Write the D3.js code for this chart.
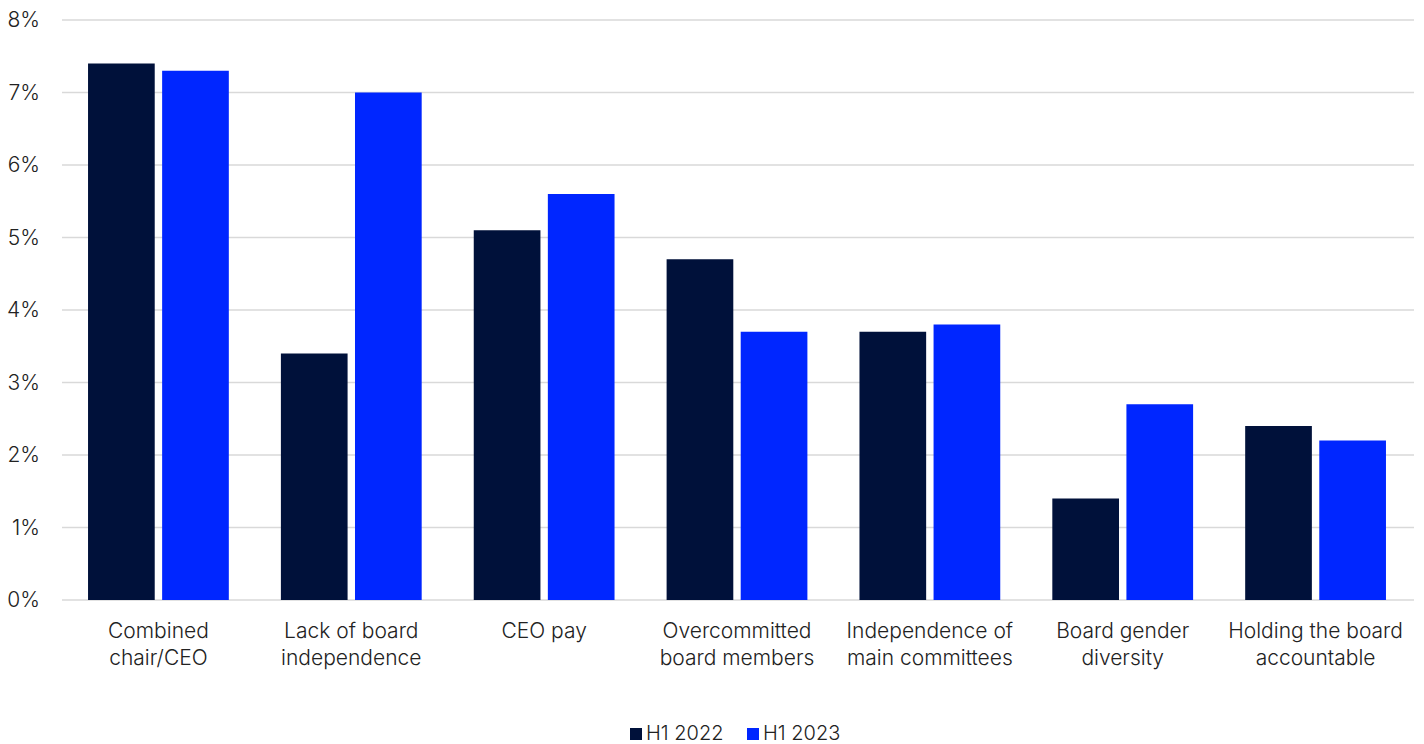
<!DOCTYPE html>
<html><head><meta charset="utf-8">
<script src="https://cdn.jsdelivr.net/npm/d3@7"></script>
<style>body{margin:0;background:#fff;}svg{display:block;font-family:Inter, "Noto Sans", sans-serif;}</style>
</head><body>
<svg id="c" width="1424" height="744"></svg>
<script>
const categories = [["Combined","chair/CEO"],["Lack of board","independence"],["CEO pay"],["Overcommitted","board members"],["Independence of","main committees"],["Board gender","diversity"],["Holding the board","accountable"]];
const seriesNames = ["H1 2022","H1 2023"];
const h1_2022 = [7.4, 3.4, 5.1, 4.7, 3.7, 1.4, 2.4];
const h1_2023 = [7.3, 7.0, 5.6, 3.7, 3.8, 2.7, 2.2];
const yTicks = [0,1,2,3,4,5,6,7,8];
const colors = ["#00113A","#0026FF"];

const svg = d3.select("#c");
const m = {l:62, r:12, t:20, b:144};
const W = 1424, H = 744;
const x0 = d3.scaleBand().domain(d3.range(categories.length)).range([m.l, W-m.r]).paddingInner(0.27).paddingOuter(0.135);
const x1 = d3.scaleBand().domain([0,1]).range([0, x0.bandwidth()]).paddingInner(0.1);
const y = d3.scaleLinear().domain([0,8]).range([H-m.b, m.t]);

const grid = svg.append("g");
yTicks.forEach(t=>{
  grid.append("line").attr("x1",m.l).attr("x2",1414).attr("y1",y(t)).attr("y2",y(t))
    .attr("stroke", "#d9d9d9").attr("stroke-width",1.3);
  grid.append("text").attr("x",40).attr("y",y(t)).attr("dy","0.35em").attr("text-anchor","end")
    .attr("font-size",21).attr("font-weight",300).attr("fill","#222").text(t+"%");
});

const data = [h1_2022, h1_2023];
data.forEach((s,si)=>{
  svg.append("g").selectAll("rect").data(s).join("rect")
    .attr("x",(d,i)=>x0(i)+x1(si)).attr("width",x1.bandwidth())
    .attr("y",d=>y(d)).attr("height",d=>y(0)-y(d)).attr("fill",colors[si]);
});

categories.forEach((lines,i)=>{
  const t = svg.append("text").attr("text-anchor","middle").attr("font-size",21).attr("font-weight",300).attr("fill","#222")
    .attr("x", x0(i)+x0.bandwidth()/2).attr("y", y(0)+38);
  lines.forEach((l,j)=>t.append("tspan").attr("x",x0(i)+x0.bandwidth()/2).attr("dy", j?27:0).text(l));
});

const leg = svg.append("g");
const lx = [630, 747];
seriesNames.forEach((n,i)=>{
  leg.append("rect").attr("x",lx[i]).attr("y",728).attr("width",12).attr("height",12).attr("fill",colors[i]);
  leg.append("text").attr("x",lx[i]+16).attr("y",733).attr("dy","0.35em").attr("font-size",20).attr("font-weight",300).attr("fill","#222").text(n);
});
</script>
</body></html>
